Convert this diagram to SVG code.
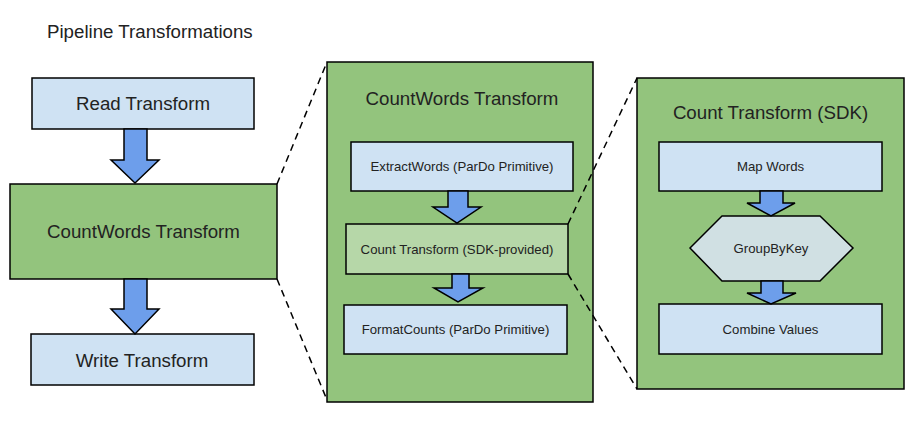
<svg xmlns="http://www.w3.org/2000/svg" width="914" height="426" viewBox="0 0 914 426">
<style>
  .box{stroke:#000;stroke-width:1.5}
  .blue{fill:#cfe2f3}
  .green{fill:#93c47d}
  .lgreen{fill:#b6d7a8}
  .hex{fill:#d0e0e3}
  .arrow{fill:#6d9eeb;stroke:#000;stroke-width:1.5;stroke-linejoin:miter}
  .dash{fill:none;stroke:#000;stroke-width:1.5;stroke-dasharray:7,5}
  text{font-family:"Liberation Sans",Arial,sans-serif;fill:#222;text-anchor:middle}
  .big{font-size:18.7px}
  .small{font-size:13.2px}
</style>
<rect width="914" height="426" fill="#fff"/>
<text x="47" y="38" class="big" style="text-anchor:start">Pipeline Transformations</text>

<g id="read-transform">
  <rect class="box blue" x="32" y="78" width="222" height="51"/>
  <text class="big" x="143" y="110">Read Transform</text>
</g>
<g id="countwords-transform">
  <rect class="box green" x="10" y="184" width="267" height="95"/>
  <text class="big" x="143.5" y="238">CountWords Transform</text>
</g>
<g id="write-transform">
  <rect class="box blue" x="31" y="334" width="223" height="51"/>
  <text class="big" x="142" y="367">Write Transform</text>
</g>

<g id="countwords-expanded">
  <rect class="box green" x="327" y="62" width="266" height="340"/>
  <text class="big" x="462" y="105">CountWords Transform</text>
</g>
<g id="extractwords">
  <rect class="box blue" x="351" y="142" width="222" height="49"/>
  <text class="small" x="462" y="171">ExtractWords (ParDo Primitive)</text>
</g>
<g id="count-transform">
  <rect class="box lgreen" x="346" y="224" width="222" height="50"/>
  <text class="small" x="457" y="254">Count Transform (SDK-provided)</text>
</g>
<g id="formatcounts">
  <rect class="box blue" x="344" y="305" width="223" height="49"/>
  <text class="small" x="455.5" y="334">FormatCounts (ParDo Primitive)</text>
</g>

<g id="count-expanded">
  <rect class="box green" x="637" y="78" width="267" height="311"/>
  <text class="big" x="770.5" y="119">Count Transform (SDK)</text>
</g>
<g id="map-words">
  <rect class="box blue" x="659" y="142" width="223" height="49"/>
  <text class="small" x="770.5" y="171">Map Words</text>
</g>
<g id="groupbykey">
  <polygon class="box hex" points="690,248 722,216 820,216 853,248 820,281 722,281"/>
  <text class="small" x="771" y="253">GroupByKey</text>
</g>
<g id="combine-values">
  <rect class="box blue" x="659" y="304" width="223" height="50"/>
  <text class="small" x="770.5" y="334">Combine Values</text>
</g>

<g id="connectors">
  <polygon class="arrow" points="124,129 147,129 147,160 159,160 135,183 111,160 124,160"/>
  <polygon class="arrow" points="124,279 147,279 147,309 159,309 135,334 111,309 124,309"/>
  <polygon class="arrow" points="448,191 468,191 468,207 481,207 457,223 433,207 448,207"/>
  <polygon class="arrow" points="452,274 469,274 469,288 483,288 458,302 434,288 452,288"/>
  <polygon class="arrow" points="760,191 783,191 783,203 795,203 771,216 747,203 760,203"/>
  <polygon class="arrow" points="761,281 783,281 783,293 796,293 771,304 747,293 761,293"/>
  <line class="dash" x1="277" y1="184" x2="327" y2="62"/>
  <line class="dash" x1="277" y1="279" x2="327" y2="400"/>
  <line class="dash" x1="568" y1="224" x2="637" y2="78"/>
  <line class="dash" x1="568" y1="274" x2="637" y2="389"/>
</g>
</svg>
